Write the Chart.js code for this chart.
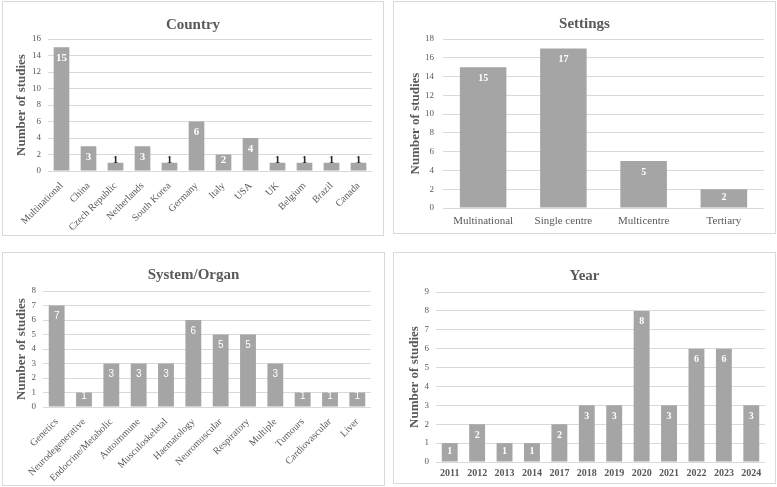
<!DOCTYPE html>
<html><head><meta charset="utf-8">
<script src="https://cdn.jsdelivr.net/npm/chart.js@4"></script>
<style>
html,body{margin:0;padding:0;background:#fff;}
body{width:777px;height:487px;position:relative;overflow:hidden;}
.box{position:absolute;border:1px solid #d9d9d9;box-sizing:border-box;}
canvas{position:absolute;}
</style></head><body>
<div class="box" style="left:2px;top:1px;width:382px;height:235px"></div>
<div class="box" style="left:393px;top:1px;width:383px;height:233px"></div>
<div class="box" style="left:2px;top:252px;width:383px;height:234px"></div>
<div class="box" style="left:393px;top:252px;width:383px;height:232px"></div>
<canvas id="c1" width="382" height="235" style="left:2px;top:1px"></canvas>
<canvas id="c2" width="383" height="233" style="left:393px;top:1px"></canvas>
<canvas id="c3" width="383" height="234" style="left:2px;top:252px"></canvas>
<canvas id="c4" width="383" height="232" style="left:393px;top:252px"></canvas>
<script>
const countryLabels = ['Multinational','China','Czech Republic','Netherlands','South Korea','Germany','Italy','USA','UK','Belgium','Brazil','Canada'];
const countryValues = [15,3,1,3,1,6,2,4,1,1,1,1];
const settingsLabels = ['Multinational','Single centre','Multicentre','Tertiary'];
const settingsValues = [15,17,5,2];
const systemLabels = ['Genetics','Neurodegenerative','Endocrine/Metabolic','Autoimmune','Musculoskeletal','Haematology','Neuromuscular','Respiratory','Multiple','Tumours','Cardiovascular','Liver'];
const systemValues = [7,1,3,3,3,6,5,5,3,1,1,1];
const yearLabels = ['2011','2012','2013','2014','2017','2018','2019','2020','2021','2022','2023','2024'];
const yearValues = [1,2,1,1,2,3,3,8,3,6,6,3];

const SERIF = '"Liberation Serif", "Times New Roman", serif';
const SANS = '"Liberation Sans", Arial, sans-serif';
const TXT = '#595959';
const GRID = '#d9d9d9';
const BAR = '#a5a5a5';

const panelTitle = {
  id: 'panelTitle',
  afterDraw(chart, args, o) {
    const ctx = chart.ctx;
    ctx.save();
    ctx.font = 'bold 15px ' + SERIF;
    ctx.fillStyle = TXT;
    ctx.textAlign = 'center';
    ctx.textBaseline = 'middle';
    ctx.fillText(o.text, chart.width / 2, o.y);
    ctx.restore();
  }
};
const valueLabels = {
  id: 'valueLabels',
  afterDatasetsDraw(chart, args, o) {
    const ctx = chart.ctx;
    const meta = chart.getDatasetMeta(0);
    const data = chart.data.datasets[0].data;
    ctx.save();
    ctx.font = o.font;
    ctx.textAlign = 'center';
    ctx.textBaseline = 'middle';
    meta.data.forEach((bar, i) => {
      const h = bar.base - bar.y;
      const cy = Math.min(bar.y + 11, bar.base - 10);
      ctx.fillStyle = h < 10 ? '#262626' : '#ffffff';
      ctx.fillText(String(data[i]), bar.x, cy);
    });
    ctx.restore();
  }
};

function make(id, s) {
  new Chart(document.getElementById(id), {
    type: 'bar',
    data: { labels: s.labels, datasets: [{ data: s.values, backgroundColor: BAR, barPercentage: 0.58, categoryPercentage: 1.0 }] },
    options: {
      responsive: false,
      animation: false,
      events: [],
      layout: { padding: { top: s.top, right: s.right, left: 0, bottom: 0 } },
      plugins: {
        legend: { display: false },
        tooltip: { enabled: false },
        panelTitle: { text: s.title, y: s.titleY },
        valueLabels: { font: s.valFont }
      },
      scales: {
        x: {
          grid: { display: false, drawTicks: false },
          border: { display: false },
          ticks: { font: s.xFont, color: TXT, padding: s.xPad, minRotation: s.rot, maxRotation: s.rot, autoSkip: false },
          afterFit(sc) { sc.height = s.xH; }
        },
        y: {
          min: 0, max: s.max,
          grid: { color: GRID, drawTicks: false },
          border: { display: false },
          ticks: { stepSize: s.step, font: { family: SERIF, size: 9 }, color: TXT, padding: s.yPad },
          title: { display: true, text: 'Number of studies', color: TXT,
                   font: { family: SERIF, size: 13, weight: 'bold', lineHeight: 1 },
                   padding: { top: s.yTitle - 6.5, bottom: 0 } },
          afterFit(sc) { sc.width = s.yW; }
        }
      }
    },
    plugins: [panelTitle, valueLabels]
  });
}

make('c1', { labels: countryLabels, values: countryValues, title: 'Country', titleY: 24,
  max: 16, step: 2, top: 38, right: 12, yW: 46, xH: 65, yTitle: 19.7, yPad: 7,
  xFont: { family: SERIF, size: 10 }, xPad: 9, rot: 45,
  valFont: 'bold 11px ' + SERIF });
make('c2', { labels: settingsLabels, values: settingsValues, title: 'Settings', titleY: 23,
  max: 18, step: 2, top: 38, right: 12, yW: 50, xH: 26, yTitle: 22.3, yPad: 9,
  xFont: { family: SERIF, size: 11 }, xPad: 7, rot: 0,
  valFont: 'bold 10px ' + SERIF });
make('c3', { labels: systemLabels, values: systemValues, title: 'System/Organ', titleY: 23,
  max: 8, step: 1, top: 39, right: 14, yW: 41, xH: 79, yTitle: 19.7, yPad: 7,
  xFont: { family: SERIF, size: 10 }, xPad: 9, rot: 45,
  valFont: '10px ' + SANS });
make('c4', { labels: yearLabels, values: yearValues, title: 'Year', titleY: 24,
  max: 9, step: 1, top: 40, right: 11, yW: 43, xH: 22, yTitle: 21.7, yPad: 7,
  xFont: { family: SERIF, size: 10, weight: 'bold' }, xPad: 5, rot: 0,
  valFont: 'bold 10px ' + SERIF });
</script>
</body></html>
